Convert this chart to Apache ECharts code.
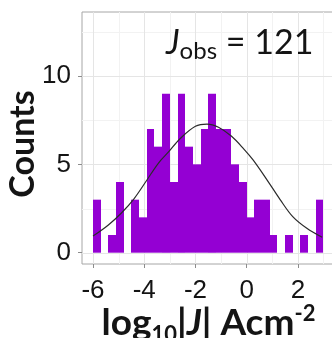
<!DOCTYPE html>
<html>
<head>
<meta charset="utf-8">
<script src="https://cdn.jsdelivr.net/npm/echarts@6/dist/echarts.min.js"></script>
<style>
  html, body { margin: 0; padding: 0; background: #fff; }
  #chart { width: 332px; height: 338px; }
</style>
</head>
<body>
<div id="chart"></div>
<script>
// Histogram of log10|J|: 30 bins of width 0.3 starting at -6
const binStart = -6;
const binWidth = 0.3;
const counts = [3, 0, 1, 4, 0, 3, 2, 7, 6, 9, 4, 9, 6, 5, 7, 9, 7, 7, 5, 4, 2, 3, 3, 1, 0, 1, 0, 1, 0, 3];

// Fitted normal curve, scaled to counts
const curveX = [-6.0, -5.4, -4.9, -4.4, -3.9, -3.45, -3.05, -2.6, -2.0, -1.55, -1.1, -0.6, -0.1, 0.25, 0.8, 1.3, 1.8, 2.35, 2.95];
const curveY = [0.94, 1.57, 2.23, 3.05, 4.1, 5.06, 5.7, 6.45, 7.15, 7.28, 7.1, 6.6, 5.85, 5.25, 4.11, 3.02, 2.04, 1.38, 0.87];

// Axis breaks
const xTicks = [-6, -4, -2, 0, 2];
const xMinor = [-5, -3, -1, 1, 3];
const yTicks = [0, 5, 10];
const yMinor = [2.5, 7.5, 12.5];

const nObs = 121;

const textColor = '#141414';
const titleFont = 'Lato';
const tickFont = 'Liberation Sans';

const bars = counts.map((c, i) => [binStart + i * binWidth, binStart + (i + 1) * binWidth, c]);
const curve = curveX.map((x, i) => [x, curveY[i]]);

const gridLines = []
  .concat(xMinor.map(v => ['x', v, 'minor']))
  .concat(yMinor.map(v => ['y', v, 'minor']))
  .concat(xTicks.map(v => ['x', v, 'major']))
  .concat(yTicks.map(v => ['y', v, 'major']));

const chart = echarts.init(document.getElementById('chart'), null, { renderer: 'canvas' });

chart.setOption({
  animation: false,
  backgroundColor: '#fff',
  grid: {
    left: 82, right: -3, top: 12, bottom: 74,
    containLabel: false,
    outerBoundsMode: 'none',
    show: true,
    backgroundColor: '#fff',
    borderColor: '#a6a6a6',
    borderWidth: 1
  },
  xAxis: {
    type: 'value',
    min: -6.43,
    max: 3.45,
    axisLine: { show: false, onZero: false },
    splitLine: { show: false },
    axisTick: {
      show: true, customValues: xTicks, length: 4,
      lineStyle: { color: '#8c8c8c', width: 1 }
    },
    axisLabel: {
      customValues: xTicks, margin: 14,
      fontFamily: tickFont, fontSize: 26, color: textColor
    },
    name: '{a|log}{s|10}{a||}{j|J}{a|| Acm}{p|-2}',
    nameLocation: 'middle',
    nameGap: 39,
    nameMoveOverlap: false,
    nameTextStyle: {
      rich: {
        a: { fontFamily: titleFont, fontWeight: 'bold', fontSize: 37, color: textColor, lineHeight: 40 },
        j: { fontFamily: titleFont, fontWeight: 'bold', fontStyle: 'italic', fontSize: 37, color: textColor, lineHeight: 40 },
        s: { fontFamily: titleFont, fontWeight: 'bold', fontSize: 22, color: textColor, verticalAlign: 'top', lineHeight: 22, padding: [21, 0, 0, 0] },
        p: { fontFamily: titleFont, fontWeight: 'bold', fontSize: 22, color: textColor, verticalAlign: 'top', lineHeight: 22 }
      }
    }
  },
  yAxis: {
    type: 'value',
    min: -0.64,
    max: 13.62,
    axisLine: { show: false, onZero: false },
    splitLine: { show: false },
    axisTick: {
      show: true, customValues: yTicks, length: 4,
      lineStyle: { color: '#8c8c8c', width: 1 }
    },
    axisLabel: {
      customValues: yTicks, margin: 11,
      fontFamily: tickFont, fontSize: 26, color: textColor
    },
    name: 'Counts',
    nameLocation: 'middle',
    nameRotate: 90,
    nameGap: 42,
    nameMoveOverlap: false,
    nameTextStyle: { fontFamily: titleFont, fontWeight: 'bold', fontSize: 34, color: textColor, padding: [0, 12, 0, 0] }
  },
  graphic: [{
    type: 'text',
    left: 166,
    top: 26,
    z: 100,
    style: {
      text: '{j|J}{s|obs}{a| = ' + nObs + '}',
      rich: {
        j: { fontFamily: titleFont, fontStyle: 'italic', fontSize: 34, fill: textColor, lineHeight: 40 },
        s: { fontFamily: titleFont, fontSize: 24, fill: textColor, verticalAlign: 'bottom', lineHeight: 24, padding: [12, 0, 0, 0] },
        a: { fontFamily: titleFont, fontSize: 34, fill: textColor, lineHeight: 40 }
      }
    }
  }],
  series: [
    {
      type: 'custom',
      name: 'grid',
      data: gridLines,
      silent: true,
      z: 1,
      clip: true,
      renderItem: function (params, api) {
        const cs = params.coordSys;
        const kind = gridLines[params.dataIndex];
        const style = { stroke: kind[2] === 'major' ? '#e5e5e5' : '#f2f2f2', lineWidth: 1 };
        if (kind[0] === 'x') {
          const px = Math.round(api.coord([kind[1], 0])[0]) + 0.5;
          return { type: 'line', shape: { x1: px, y1: cs.y, x2: px, y2: cs.y + cs.height }, style: style };
        }
        const py = Math.round(api.coord([0, kind[1]])[1]) + 0.5;
        return { type: 'line', shape: { x1: cs.x, y1: py, x2: cs.x + cs.width, y2: py }, style: style };
      },
      encode: { x: 1 }
    },
    {
      type: 'custom',
      name: 'counts',
      data: bars,
      z: 2,
      renderItem: function (params, api) {
        const c = api.value(2);
        if (!c) return null;
        const p0 = api.coord([api.value(0), c]);
        const p1 = api.coord([api.value(1), 0]);
        const x0 = Math.round(p0[0]);
        const x1 = Math.round(p1[0]);
        return {
          type: 'rect',
          shape: { x: x0, y: p0[1], width: x1 - x0, height: p1[1] - p0[1] },
          style: { fill: '#9400D3' }
        };
      },
      encode: { x: [0, 1], y: 2 }
    },
    {
      type: 'line',
      name: 'fit',
      data: curve,
      z: 3,
      smooth: 0.35,
      showSymbol: false,
      symbol: 'none',
      lineStyle: { color: '#2b2b2b', width: 1.2 }
    }
  ]
});
</script>
</body>
</html>
